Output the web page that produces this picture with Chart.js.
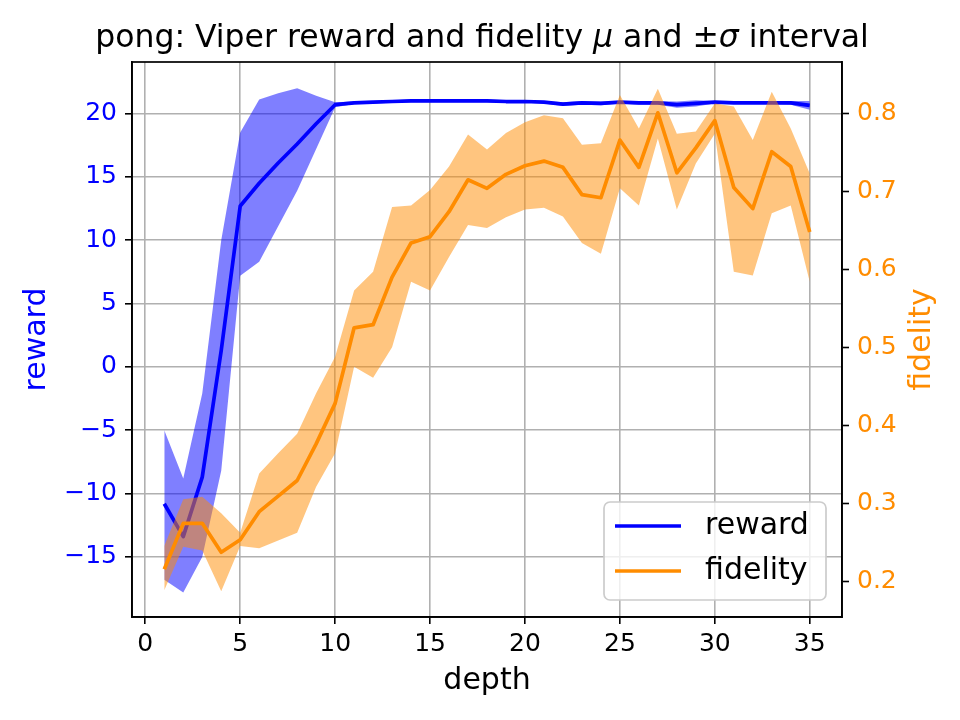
<!DOCTYPE html>
<html>
<head>
<meta charset="utf-8">
<title>pong: Viper reward and fidelity</title>
<script src="https://cdn.jsdelivr.net/npm/chart.js@4.4.1/dist/chart.umd.min.js"></script>
<style>
    html, body { margin: 0; padding: 0; background: #fff; }
    #wrap { width: 960px; height: 720px; }
</style>
</head>
<body>
<div id="wrap"><canvas id="chart" width="960" height="720"></canvas></div>
<script>
const depth = [1, 2, 3, 4, 5, 6, 7, 8, 9, 10, 11, 12, 13, 14, 15, 16, 17, 18,
    19, 20, 21, 22, 23, 24, 25, 26, 27, 28, 29, 30, 31, 32, 33, 34, 35];

const rewardMean = [-10.8, -13.4, -8.7, 1.3, 12.7, 14.5, 16.1, 17.6, 19.2, 20.7,
    20.85, 20.9, 20.95, 21.0, 21.0, 21.0, 21.0, 21.0, 20.95, 20.95, 20.9, 20.75,
    20.85, 20.8, 20.9, 20.85, 20.85, 20.7, 20.8, 20.9, 20.85, 20.85, 20.85, 20.85, 20.65];
const rewardUpper = [-5.0, -8.8, -2.1, 10.0, 18.5, 21.1, 21.6, 22.0, 21.4, 20.9,
    20.95, 21.0, 21.05, 21.1, 21.1, 21.1, 21.1, 21.1, 21.05, 21.05, 21.0, 20.9,
    21.0, 20.95, 21.0, 21.0, 21.0, 20.95, 21.05, 21.0, 20.95, 20.95, 20.95, 21.0, 21.0];
const rewardLower = [-16.8, -17.8, -15.0, -8.2, 7.2, 8.3, 11.1, 13.9, 17.2, 20.5,
    20.75, 20.8, 20.85, 20.9, 20.9, 20.9, 20.9, 20.9, 20.85, 20.85, 20.8, 20.6,
    20.7, 20.65, 20.8, 20.7, 20.7, 20.45, 20.55, 20.8, 20.75, 20.75, 20.75, 20.7, 20.3];

const fidelityMean = [0.215, 0.274, 0.274, 0.237, 0.253, 0.289, 0.309, 0.329, 0.376, 0.428,
    0.525, 0.529, 0.590, 0.634, 0.642, 0.674, 0.715, 0.704, 0.722, 0.733, 0.739, 0.731,
    0.696, 0.692, 0.766, 0.731, 0.801, 0.724, 0.756, 0.791, 0.705, 0.678, 0.751, 0.732, 0.648];
const fidelityUpper = [0.245, 0.305, 0.308, 0.287, 0.262, 0.338, 0.364, 0.389, 0.441, 0.488,
    0.573, 0.597, 0.680, 0.682, 0.702, 0.732, 0.773, 0.754, 0.775, 0.789, 0.798, 0.794,
    0.760, 0.762, 0.824, 0.781, 0.832, 0.774, 0.777, 0.813, 0.809, 0.766, 0.828, 0.781, 0.723];
const fidelityLower = [0.188, 0.244, 0.239, 0.187, 0.245, 0.242, 0.252, 0.262, 0.321, 0.364,
    0.475, 0.461, 0.500, 0.584, 0.573, 0.616, 0.657, 0.653, 0.667, 0.677, 0.679, 0.668,
    0.634, 0.620, 0.704, 0.682, 0.768, 0.677, 0.736, 0.774, 0.597, 0.592, 0.672, 0.682, 0.584];

const depthTicks = [0, 5, 10, 15, 20, 25, 30, 35];
const rewardTicks = [-15, -10, -5, 0, 5, 10, 15, 20];
const fidelityTicks = [0.2, 0.3, 0.4, 0.5, 0.6, 0.7, 0.8];

const FONT = "'DejaVu Sans', sans-serif";
const BLUE = "#0000ff";
const ORANGE = "#ff8c00";
const GRID = "#b0b0b0";
const LINE_WIDTH = 3.7;

function toXY(values) {
    return values.map((y, i) => ({ x: depth[i], y: y }));
}

function fixTicks(values) {
    return scale => {
        scale.ticks = values.map(v => ({ value: v }));
    };
}

function minusSign(value) {
    return String(value).replace("-", "\u2212");
}

// title with italic mu / sigma like matplotlib mathtext
const titlePlugin = {
    id: "mathTitle",
    afterDraw(chart) {
        const { ctx, chartArea } = chart;
        const parts = [
            ["pong: Viper reward and fidelity ", ""],
            ["\u03bc", "italic "],
            [" and \u00b1", ""],
            ["\u03c3", "italic "],
            [" interval", ""]
        ];
        ctx.save();
        ctx.fillStyle = "#000";
        ctx.textBaseline = "alphabetic";
        let total = 0;
        for (const [text, style] of parts) {
            ctx.font = style + "31.5px " + FONT;
            total += ctx.measureText(text).width;
        }
        let x = (chartArea.left + chartArea.right) / 2 - 5 - total / 2;
        for (const [text, style] of parts) {
            ctx.font = style + "31.5px " + FONT;
            ctx.fillText(text, x, chartArea.top - 15);
            x += ctx.measureText(text).width;
        }
        ctx.restore();
    }
};

const framePlugin = {
    id: "frame",
    afterDatasetsDraw(chart) {
        const { ctx, chartArea: a } = chart;
        ctx.save();
        ctx.strokeStyle = "#000";
        ctx.lineWidth = 1.7;
        ctx.strokeRect(a.left, a.top, a.right - a.left, a.bottom - a.top);

        // right axis label, reading upwards like the left one
        ctx.translate(922, (a.top + a.bottom) / 2);
        ctx.rotate(-Math.PI / 2);
        ctx.font = "30px " + FONT;
        ctx.fillStyle = ORANGE;
        ctx.textAlign = "center";
        ctx.textBaseline = "middle";
        ctx.fillText("fidelity", 0, 0);
        ctx.restore();
    }
};

const legendPlugin = {
    id: "boxLegend",
    afterDraw(chart) {
        const { ctx, chartArea: a } = chart;
        const w = 222, h = 98;
        const left = a.right - 16 - w;
        const top = a.bottom - 17 - h;
        ctx.save();
        ctx.beginPath();
        ctx.roundRect(left, top, w, h, 6);
        ctx.fillStyle = "rgba(255,255,255,0.8)";
        ctx.fill();
        ctx.strokeStyle = "#cccccc";
        ctx.lineWidth = 1.7;
        ctx.stroke();
        const entries = [["reward", BLUE], ["fidelity", ORANGE]];
        entries.forEach(([label, color], i) => {
            const y = top + 24 + i * 45;
            ctx.strokeStyle = color;
            ctx.lineWidth = LINE_WIDTH;
            ctx.beginPath();
            ctx.moveTo(left + 11, y);
            ctx.lineTo(left + 77, y);
            ctx.stroke();
            ctx.fillStyle = "#000";
            ctx.font = "30px " + FONT;
            ctx.textBaseline = "middle";
            ctx.fillText(label, left + 101, y);
        });
        ctx.restore();
    }
};

const chartCtx = document.getElementById("chart").getContext("2d");
const chart = new Chart(chartCtx, {
    type: "line",
    data: {
        datasets: [
            {
                label: "reward +sigma",
                data: toXY(rewardUpper),
                yAxisID: "y",
                borderColor: "rgba(0,0,0,0)",
                backgroundColor: "rgba(0,0,255,0.5)",
                fill: "+1",
                pointRadius: 0,
                order: 4
            },
            {
                label: "reward -sigma",
                data: toXY(rewardLower),
                yAxisID: "y",
                borderColor: "rgba(0,0,0,0)",
                fill: false,
                pointRadius: 0,
                order: 4
            },
            {
                label: "reward",
                data: toXY(rewardMean),
                yAxisID: "y",
                borderColor: BLUE,
                borderWidth: LINE_WIDTH,
                fill: false,
                pointRadius: 0,
                order: 3
            },
            {
                label: "fidelity +sigma",
                data: toXY(fidelityUpper),
                yAxisID: "y1",
                borderColor: "rgba(0,0,0,0)",
                backgroundColor: "rgba(255,140,0,0.5)",
                fill: "+1",
                pointRadius: 0,
                order: 2
            },
            {
                label: "fidelity -sigma",
                data: toXY(fidelityLower),
                yAxisID: "y1",
                borderColor: "rgba(0,0,0,0)",
                fill: false,
                pointRadius: 0,
                order: 2
            },
            {
                label: "fidelity",
                data: toXY(fidelityMean),
                yAxisID: "y1",
                borderColor: ORANGE,
                borderWidth: LINE_WIDTH,
                fill: false,
                pointRadius: 0,
                order: 1
            }
        ]
    },
    options: {
        responsive: false,
        devicePixelRatio: 1,
        animation: false,
        parsing: false,
        events: [],
        elements: { line: { tension: 0, borderCapStyle: "butt", borderJoinStyle: "round" } },
        layout: { padding: { top: 62, left: 0, right: 0, bottom: 0 } },
        plugins: {
            legend: { display: false },
            title: { display: false },
            tooltip: { enabled: false }
        },
        scales: {
            x: {
                type: "linear",
                min: -0.7,
                max: 36.7,
                afterBuildTicks: fixTicks(depthTicks),
                afterFit: scale => { scale.height = 103; },
                grid: { color: GRID, lineWidth: 1.6, tickColor: "#000", tickLength: 7, tickWidth: 1.6 },
                border: { color: "#000", width: 1.7 },
                ticks: { color: "#000", font: { family: FONT, size: 25 }, padding: 5, maxRotation: 0 },
                title: { display: true, text: "depth", color: "#000", font: { family: FONT, size: 30 }, padding: { top: 0, bottom: 21 } }
            },
            y: {
                type: "linear",
                position: "left",
                min: -19.74,
                max: 24.07,
                afterBuildTicks: fixTicks(rewardTicks),
                afterFit: scale => { scale.width = 132; },
                grid: { color: GRID, lineWidth: 1.6, tickColor: "#000", tickLength: 7, tickWidth: 1.6 },
                border: { color: "#000", width: 1.7 },
                ticks: { color: BLUE, font: { family: FONT, size: 25 }, padding: 8, callback: v => minusSign(v) },
                title: { display: true, text: "reward", color: BLUE, font: { family: FONT, size: 30 }, padding: { top: 19, bottom: 0 } }
            },
            y1: {
                type: "linear",
                position: "right",
                min: 0.1538,
                max: 0.8662,
                afterBuildTicks: fixTicks(fidelityTicks),
                afterFit: scale => { scale.width = 118; },
                grid: { drawOnChartArea: false, tickColor: "#000", tickLength: 7, tickWidth: 1.6 },
                border: { color: "#000", width: 1.7 },
                ticks: { color: ORANGE, font: { family: FONT, size: 25 }, padding: 8, callback: v => v.toFixed(1) }
            }
        }
    },
    plugins: [titlePlugin, framePlugin, legendPlugin]
});
</script>
</body>
</html>
